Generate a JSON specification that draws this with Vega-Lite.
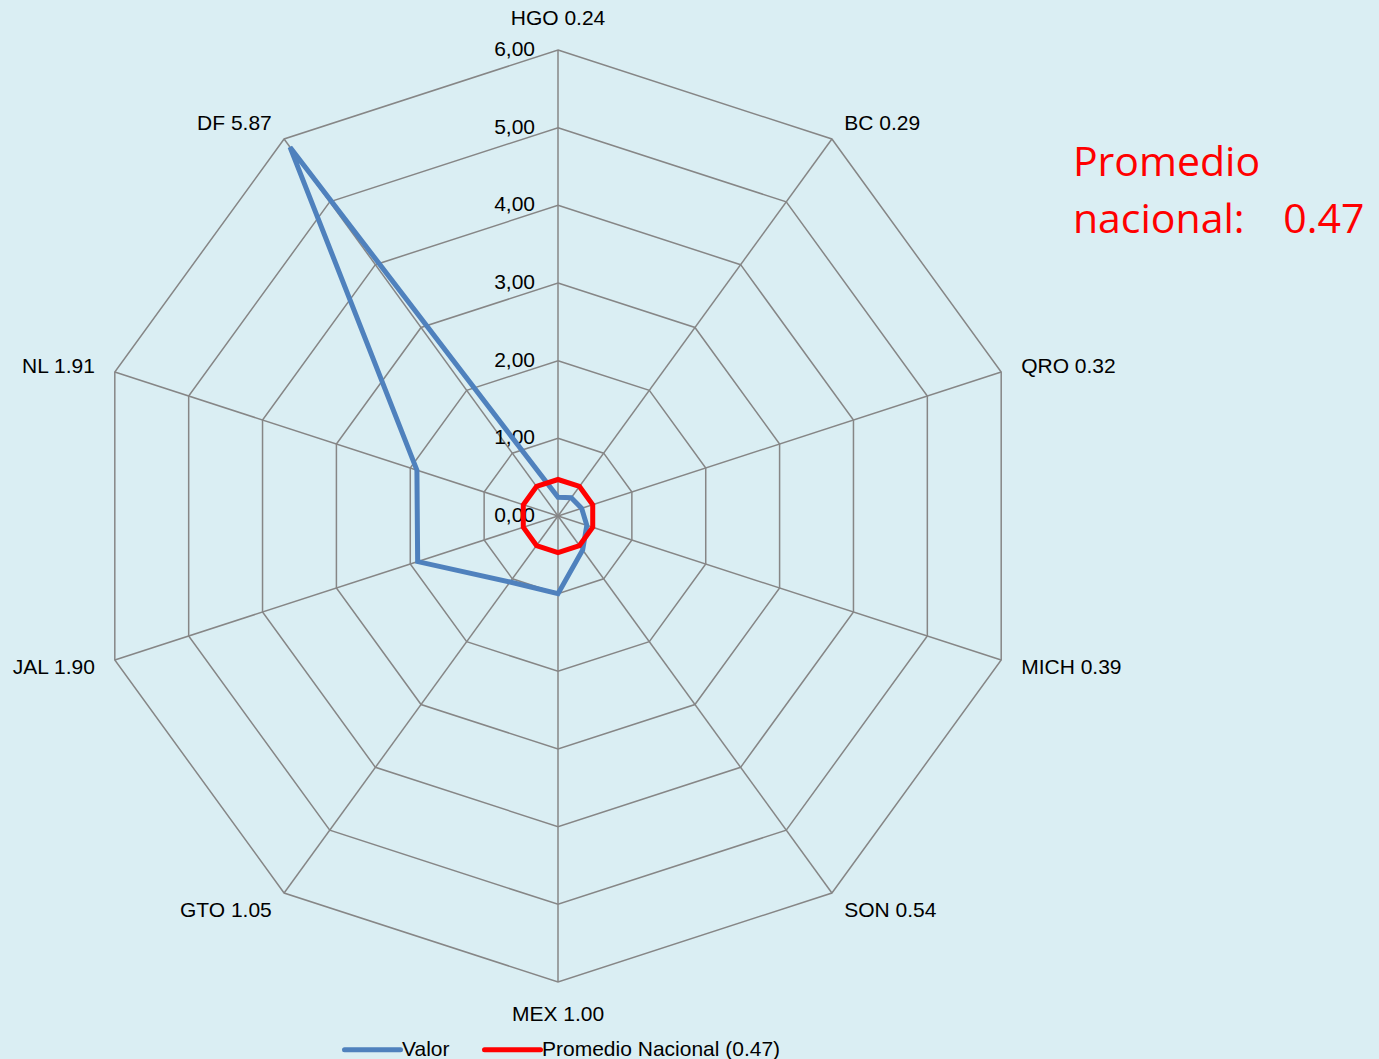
{
  "$schema": "https://vega.github.io/schema/vega-lite/v6.json",
  "width": 1379,
  "height": 1059,
  "padding": 0,
  "autosize": "none",
  "background": "#DAEEF3",
  "config": {"view": {"stroke": null}, "font": "Liberation Sans"},
  "datasets": {
    "estados": [
      {"estado": "HGO", "valor": 0.24, "promedio": 0.47, "orden": 0},
      {"estado": "BC", "valor": 0.29, "promedio": 0.47, "orden": 1},
      {"estado": "QRO", "valor": 0.32, "promedio": 0.47, "orden": 2},
      {"estado": "MICH", "valor": 0.39, "promedio": 0.47, "orden": 3},
      {"estado": "SON", "valor": 0.54, "promedio": 0.47, "orden": 4},
      {"estado": "MEX", "valor": 1.00, "promedio": 0.47, "orden": 5},
      {"estado": "GTO", "valor": 1.05, "promedio": 0.47, "orden": 6},
      {"estado": "JAL", "valor": 1.90, "promedio": 0.47, "orden": 7},
      {"estado": "NL", "valor": 1.91, "promedio": 0.47, "orden": 8},
      {"estado": "DF", "valor": 5.87, "promedio": 0.47, "orden": 9}
    ],
    "niveles": [
      {"nivel": 0}, {"nivel": 1}, {"nivel": 2}, {"nivel": 3}, {"nivel": 4}, {"nivel": 5}, {"nivel": 6}
    ]
  },
  "layer": [
    {
      "data": {"name": "niveles"},
      "transform": [
        {"filter": "datum.nivel > 0"},
        {"calculate": "[0,1,2,3,4,5,6,7,8,9]", "as": "eje"},
        {"flatten": ["eje"]},
        {"calculate": "datum.eje * PI / 5", "as": "theta"},
        {"calculate": "datum.nivel * sin(datum.theta)", "as": "gx"},
        {"calculate": "datum.nivel * cos(datum.theta)", "as": "gy"}
      ],
      "mark": {"type": "line", "interpolate": "linear-closed", "color": "#868686", "strokeWidth": 1.5},
      "encoding": {
        "x": {"field": "gx", "type": "quantitative", "scale": {"domain": [-7.1846, 10.5708], "nice": false, "zero": false}, "axis": null},
        "y": {"field": "gy", "type": "quantitative", "scale": {"domain": [-6.9914, 6.6438], "nice": false, "zero": false}, "axis": null},
        "detail": {"field": "nivel", "type": "nominal"},
        "order": {"field": "eje", "type": "quantitative"}
      }
    },
    {
      "data": {"name": "estados"},
      "transform": [
        {"calculate": "datum.orden * PI / 5", "as": "theta"},
        {"calculate": "0", "as": "c0"},
        {"calculate": "6 * sin(datum.theta)", "as": "sx"},
        {"calculate": "6 * cos(datum.theta)", "as": "sy"}
      ],
      "mark": {"type": "rule", "color": "#868686", "strokeWidth": 1.5},
      "encoding": {
        "x": {"field": "c0", "type": "quantitative"},
        "y": {"field": "c0", "type": "quantitative"},
        "x2": {"field": "sx"},
        "y2": {"field": "sy"}
      }
    },
    {
      "data": {"name": "niveles"},
      "transform": [
        {"calculate": "0", "as": "c0"},
        {"calculate": "replace(format(datum.nivel, '.2f'), '.', ',')", "as": "etiqueta"}
      ],
      "mark": {"type": "text", "align": "right", "baseline": "middle", "dx": -23, "fontSize": 21, "color": "#000000"},
      "encoding": {
        "x": {"field": "c0", "type": "quantitative"},
        "y": {"field": "nivel", "type": "quantitative"},
        "text": {"field": "etiqueta", "type": "nominal"}
      }
    },
    {
      "data": {"name": "estados"},
      "transform": [
        {"fold": ["valor", "promedio"]},
        {"filter": "datum.key == 'valor'"},
        {"calculate": "'Valor'", "as": "serie"},
        {"calculate": "datum.orden * PI / 5", "as": "theta"},
        {"calculate": "datum.value * sin(datum.theta)", "as": "px"},
        {"calculate": "datum.value * cos(datum.theta)", "as": "py"}
      ],
      "mark": {"type": "line", "interpolate": "linear-closed", "strokeWidth": 5},
      "encoding": {
        "x": {"field": "px", "type": "quantitative"},
        "y": {"field": "py", "type": "quantitative"},
        "order": {"field": "orden", "type": "quantitative"},
        "color": {
          "field": "serie", "type": "nominal",
          "scale": {"domain": ["Valor", "Promedio Nacional (0.47)"], "range": ["#4F81BD", "#FF0000"]},
          "legend": {
            "title": null, "orient": "none", "legendX": 342, "legendY": 1019, "direction": "horizontal",
            "symbolType": "stroke", "symbolSize": 3136, "symbolStrokeWidth": 5,
            "labelFontSize": 21, "labelFont": "Liberation Sans", "labelColor": "#000000", "labelLimit": 0,
            "labelOffset": -1, "columnPadding": 24, "padding": 0,
            "encode": {"symbols": {"update": {"strokeCap": {"value": "round"}}}}
          }
        }
      }
    },
    {
      "data": {"name": "estados"},
      "transform": [
        {"fold": ["valor", "promedio"]},
        {"filter": "datum.key == 'promedio'"},
        {"calculate": "'Promedio Nacional (0.47)'", "as": "serie"},
        {"calculate": "datum.orden * PI / 5", "as": "theta"},
        {"calculate": "datum.value * sin(datum.theta)", "as": "px"},
        {"calculate": "datum.value * cos(datum.theta)", "as": "py"}
      ],
      "mark": {"type": "line", "interpolate": "linear-closed", "strokeWidth": 5},
      "encoding": {
        "x": {"field": "px", "type": "quantitative"},
        "y": {"field": "py", "type": "quantitative"},
        "order": {"field": "orden", "type": "quantitative"},
        "color": {"field": "serie", "type": "nominal"}
      }
    },
    {
      "data": {"name": "estados"},
      "transform": [
        {"filter": "datum.orden >= 1 && datum.orden <= 4"},
        {"calculate": "datum.orden * PI / 5", "as": "theta"},
        {"calculate": "6.27 * sin(datum.theta)", "as": "lx"},
        {"calculate": "6.27 * cos(datum.theta)", "as": "ly"},
        {"calculate": "datum.estado + ' ' + format(datum.valor, '.2f')", "as": "texto"}
      ],
      "mark": {"type": "text", "align": "left", "baseline": "middle", "dy": 1.5, "fontSize": 21, "color": "#000000"},
      "encoding": {
        "x": {"field": "lx", "type": "quantitative"},
        "y": {"field": "ly", "type": "quantitative"},
        "text": {"field": "texto", "type": "nominal"}
      }
    },
    {
      "data": {"name": "estados"},
      "transform": [
        {"filter": "datum.orden >= 6"},
        {"calculate": "datum.orden * PI / 5", "as": "theta"},
        {"calculate": "6.27 * sin(datum.theta)", "as": "lx"},
        {"calculate": "6.27 * cos(datum.theta)", "as": "ly"},
        {"calculate": "datum.estado + ' ' + format(datum.valor, '.2f')", "as": "texto"}
      ],
      "mark": {"type": "text", "align": "right", "baseline": "middle", "dy": 1.5, "fontSize": 21, "color": "#000000"},
      "encoding": {
        "x": {"field": "lx", "type": "quantitative"},
        "y": {"field": "ly", "type": "quantitative"},
        "text": {"field": "texto", "type": "nominal"}
      }
    },
    {
      "data": {"name": "estados"},
      "transform": [
        {"filter": "datum.orden == 0 || datum.orden == 5"},
        {"calculate": "datum.orden * PI / 5", "as": "theta"},
        {"calculate": "6.41 * sin(datum.theta)", "as": "lx"},
        {"calculate": "6.41 * cos(datum.theta)", "as": "ly"},
        {"calculate": "datum.estado + ' ' + format(datum.valor, '.2f')", "as": "texto"}
      ],
      "mark": {"type": "text", "align": "center", "baseline": "middle", "dy": 1, "fontSize": 21, "color": "#000000"},
      "encoding": {
        "x": {"field": "lx", "type": "quantitative"},
        "y": {"field": "ly", "type": "quantitative"},
        "text": {"field": "texto", "type": "nominal"}
      }
    },
    {
      "data": {"values": [{"px": 6.63, "py": 4.38, "t": "Promedio nacional"}]},
      "mark": {"type": "text", "align": "left", "baseline": "alphabetic", "font": "Open Sans", "fontSize": 41, "lineHeight": 57, "color": "#FF0000", "text": ["Promedio", "nacional:\u00a0\u00a0\u00a0\u20090.47"]},
      "encoding": {
        "x": {"field": "px", "type": "quantitative"},
        "y": {"field": "py", "type": "quantitative"}
      }
    }
  ]
}
